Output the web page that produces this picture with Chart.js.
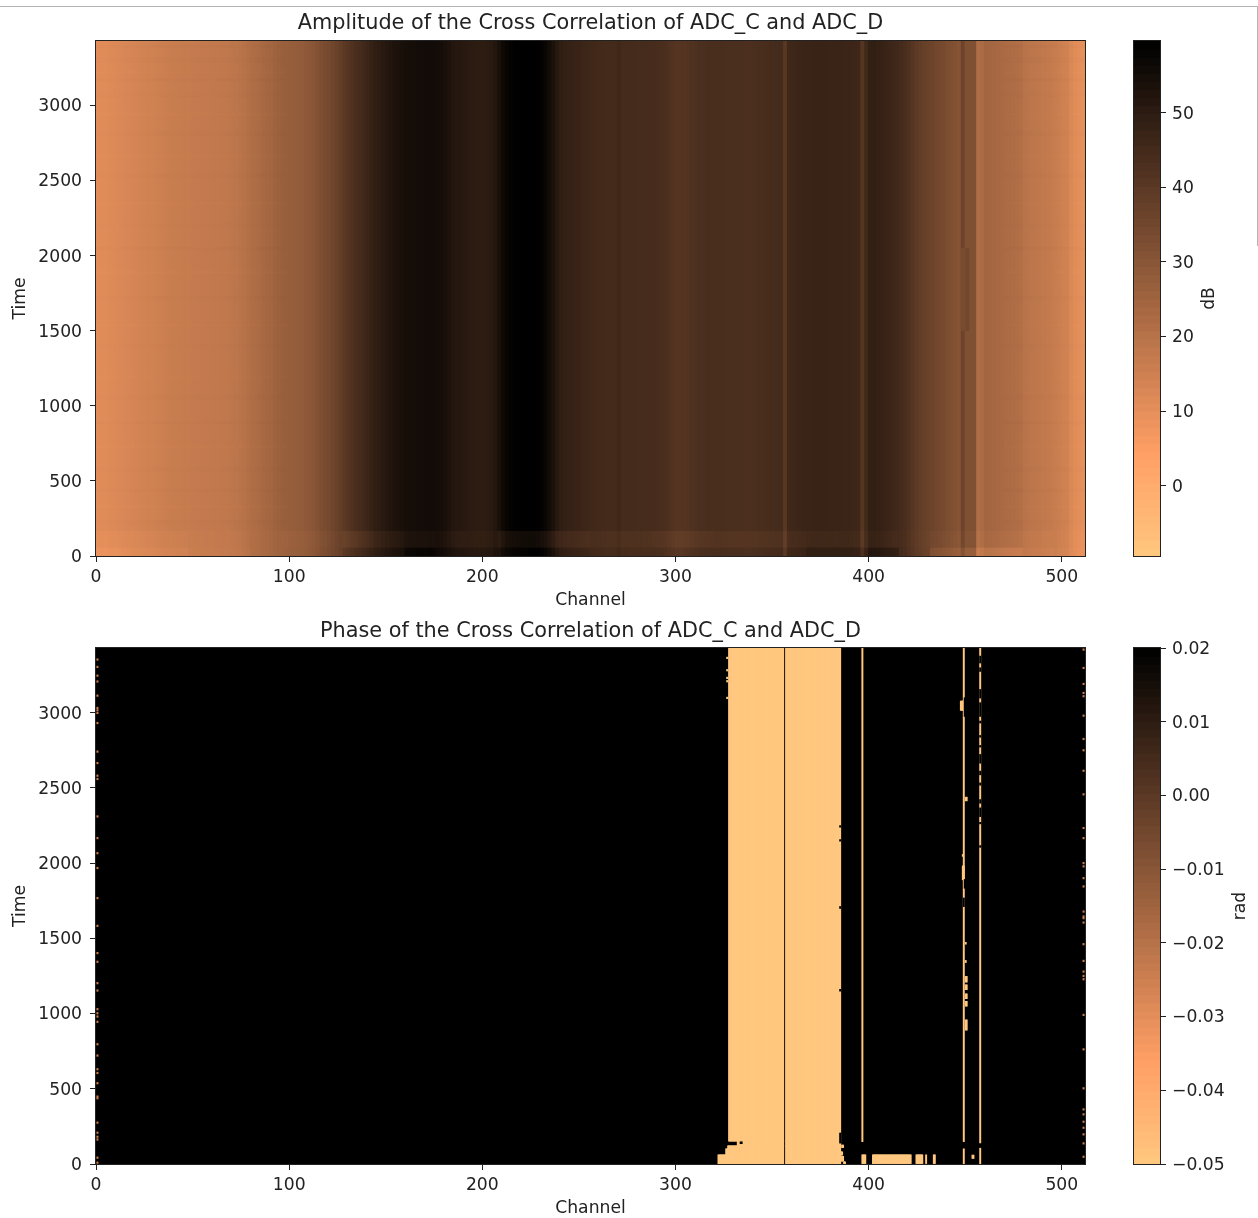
<!DOCTYPE html>
<html>
<head>
<meta charset="utf-8">
<script src="https://cdn.jsdelivr.net/npm/chart.js@4/dist/chart.umd.js"></script>
<style>
html,body{margin:0;padding:0;background:#fff;width:1258px;height:1218px;overflow:hidden}
canvas{position:absolute}
#frameTop{position:absolute;left:0;top:6px;width:1258px;height:1px;background:#b4b4b4}
#frameRight{position:absolute;left:1257px;top:6px;width:1px;height:240px;background:#b4b4b4}
</style>
</head>
<body>
<div id="frameTop"></div><div id="frameRight"></div>
<canvas id="amp" style="left:0;top:0"></canvas>
<canvas id="phase" style="left:0;top:608px"></canvas>
<canvas id="ampBar" style="left:1100px;top:0"></canvas>
<canvas id="phaseBar" style="left:1100px;top:608px"></canvas>
<script>
const titleAmp = "Amplitude of the Cross Correlation of ADC_C and ADC_D";
const titlePhase = "Phase of the Cross Correlation of ADC_C and ADC_D";
const xLabel = "Channel";
const yLabel = "Time";
const channelMax = 512;
const timeMax = 3430;
const dbMin = -9.4, dbMax = 59.6;
const radMin = -0.05, radMax = 0.02;
const channelTicks = [0,100,200,300,400,500];
const timeTicks = [0,500,1000,1500,2000,2500,3000];
const dbTicks = [0,10,20,30,40,50];
const radTicks = [-0.05,-0.04,-0.03,-0.02,-0.01,0,0.01,0.02];

// Amplitude in dB for each two-channel bin, channels 0..512 (16 bins per row = 32 channels)
const ampDb = [
11.0,11.2,11.1,11.5,11.8,12.0,12.4,12.7,13.0,13.2,13.6,13.9,14.1,14.4,14.6,15.0,
15.3,15.5,15.8,16.0,16.2,16.4,16.5,16.7,16.8,16.9,17.1,17.2,17.4,17.5,17.6,17.7,
17.9,18.1,18.3,18.6,18.9,19.3,20.0,20.8,21.5,22.0,22.6,23.4,24.0,24.3,25.2,25.8,
26.2,26.6,27.0,27.3,27.6,28.0,28.6,29.3,30.0,31.2,32.6,33.4,34.4,35.6,36.8,38.2,
40.1,41.4,42.6,43.6,44.5,45.6,46.8,48.0,49.2,50.0,50.8,51.6,52.4,53.0,53.6,54.2,
54.8,55.0,55.2,55.4,55.5,55.6,55.7,55.7,55.4,55.0,54.2,53.0,52.0,51.4,51.2,51.0,
50.6,50.2,50.0,49.9,49.9,50.2,50.8,52.0,54.2,56.4,57.9,58.6,59.1,59.4,59.6,59.6,
59.6,59.6,59.3,58.5,57.4,55.6,53.6,51.0,49.2,48.6,48.2,47.9,47.5,47.0,46.6,46.2,
45.8,45.6,45.4,45.2,45.0,45.0,45.0,46.0,44.8,44.7,44.6,44.6,44.5,44.5,44.4,44.3,
44.2,44.0,43.8,43.4,42.6,41.8,41.2,41.2,41.4,41.8,42.4,43.0,43.3,43.5,43.6,43.7,
43.8,43.8,43.6,43.5,43.4,43.4,43.3,43.3,43.2,43.2,43.4,43.6,43.8,44.0,44.2,44.4,
44.6,44.8,40.5,45.8,46.2,46.5,46.8,47.0,47.2,47.3,47.4,47.5,47.4,47.3,47.3,47.2,
47.0,46.9,46.8,46.7,46.4,46.2,41.0,45.5,48.6,48.8,48.4,48.0,47.4,46.8,46.2,45.6,
44.8,43.8,42.6,41.0,39.6,38.6,37.6,36.8,36.0,35.2,34.6,33.8,33.0,32.2,31.4,30.6,
36.0,32.0,32.0,32.0,21.5,22.5,24.5,24.2,23.8,23.4,23.0,22.6,22.2,21.9,21.6,21.2,
19.6,19.2,18.8,18.5,18.2,17.8,17.4,17.0,16.4,15.6,15.0,14.4,12.6,11.2,10.4,10.0
];
// dB offsets near the start of the recording, one value per 16 channels
const ampOffsetMid = [-1,-1,-1,-0.5,-0.5,-0.5,-1,-1,-3,-2.5,-2,-1.5,-1,-4,-4,-3,-2,-2,-2.5,-2.5,-2,-2,-2,-1.5,-1,-1,-0.5,-1,-1,-1,-1,-0.5];
const ampOffsetLow = [-2.5,-2,-2,-1,-1,-0.5,-0.5,-0.5,0,0,2,1,1,-1,0,0,-0.5,-0.5,-0.5,0,0,0,0,1.5,2,3,0,-4,-5,-5,-2,-1];
const ampRowMain = [170,3430];
const ampRowMid = [60,170];
const ampRowLow = [0,60];
// Faint horizontal streaks over the light outer channels: [t0,t1,dB offset]
const ampStreaks = [
[3385,3400,0.5],[3290,3320,0.4],[3215,3230,-0.3],[3165,3178,0.5],[3060,3085,0.3],[2935,2950,-0.3],[2800,2825,0.4],[2660,2672,-0.3],
[2520,2545,0.4],[2340,2355,-0.3],[2195,2215,0.3],[2040,2054,0.5],[1880,1900,-0.3],[1705,1730,0.4],[1530,1544,-0.3],[1385,1410,0.3],
[1190,1204,-0.3],[1045,1070,0.4],[880,894,0.5],[720,738,-0.3],[565,590,0.4],[430,444,0.5],[320,338,-0.3],[215,235,0.4]
];
const streakChannelLimitLow = 98, streakChannelLimitHigh = 470;
// Short sideways drift of the dark line near channel 450: [bin centre, t0, t1, dB]
const ampDrift = [[449,1500,2050,33.5],[451,1500,2050,35]];

// Phase: regions at the low value, everything else is at the high value [ch0,ch1,t0,t1]
const phaseLight = [
[327.5,356,153,3430],[357,385.5,0,3430],
[322,327,0,60],[326,327,60,100],[327,356,0,120],[332,356,120,153],
[396.5,397,150,3430],[396.5,398.5,4,60],[402,422,4,60],[424.5,428,4,60],[429.5,430,4,60],[433.5,434.5,4,60],
[449,449.5,150,3430],[449,449.5,0,100],
[457.5,458,141,3430],[457.5,458,0,104],
[453.5,454.5,38,58],
[447.5,449.5,3016,3076],[450,451,2415,2437],[448.5,449,2046,2056],[448.5,449.5,1890,1980],
[450,451,1210,1246],[450,451,1160,1190],[450,451,1100,1130],[450,451,1050,1080],[450,451,891,957],[450,450.5,1462,1472],[450,450.5,1340,1352],
[385.5,386.5,60,80],[385.5,387,20,50],[387,388,4,14],[386,387,110,125],[326.5,327,3360,3368],[326.5,327,3278,3286],[326.5,327,3227,3235],[326.5,327,3205,3213],[326.5,327,3094,3102]
];
const phaseDark = [
[385,385.5,2240,2248],[385,385.5,2147,2155],[385,385.5,140,205],[385,385.5,1150,1160],[385,385.5,1700,1710],
[333.5,334.5,136,146],[449.5,450,2976,3098],[449.5,450,1834,1890],[449,449.5,1712,1767],
[457.5,458,3331,3375],[457.5,458,3275,3297],[457.5,458,3098,3153],[457.5,458,2976,3065],[457.5,458,2932,2943],
[457.5,458,2838,2847],[457.5,458,2772,2781],[457.5,458,2665,2721],[457.5,458,2588,2610],[457.5,458,2519,2532],
[457.5,458,2399,2421],[457.5,458,2310,2366],[457.5,458,2262,2270],[457.5,458,2106,2115]
];
const speckLeft = [3353,3304,3246,3207,3113,3031,3016,2998,2931,2741,2665,2581,2559,2310,2166,2066,1967,1767,1583,1402,1344,1202,1153,1029,1002,980,945,796,721,630,605,537,448,437,275,208,181,163,42,9];
const speckRight = [3419,3297,3191,3131,3109,2980,2825,2750,2614,2457,2233,2166,2000,1978,1900,1845,1678,1645,1634,1605,1461,1350,1279,1250,1228,991,762,503,363,330,281,241,197,137,48];
const speckValue = -0.025;
const barLevels = 64;

const FONT = "'DejaVu Sans'";
const TEXT = "#222222";
const tickSize = 17.2, titleSize = 20.8;

function copperR(t){ // t: 0 = low value, 1 = high value
  const x = 1 - Math.max(0, Math.min(1, t));
  const r = Math.min(1, 1.25 * x), g = 0.7812 * x, b = 0.4975 * x;
  return `rgb(${Math.round(r*255)},${Math.round(g*255)},${Math.round(b*255)})`;
}
const dbColor = v => copperR((v - dbMin) / (dbMax - dbMin));
const radColor = v => copperR((v - radMin) / (radMax - radMin));
const fixedTicks = values => (s => { s.ticks = values.map(v => ({value:v})); });

const spines = {
  id: 'spines',
  afterDatasetsDraw(chart){
    const a = chart.chartArea, c = chart.ctx;
    c.save(); c.strokeStyle = '#222'; c.lineWidth = 1;
    c.strokeRect(Math.round(a.left)-0.5, Math.round(a.top)-0.5, Math.round(a.right-a.left)+1, Math.round(a.bottom-a.top)+1);
    c.restore();
  }
};
const barLabel = {
  id: 'barLabel',
  afterDraw(chart, args, opts){
    const c = chart.ctx;
    c.save();
    c.translate(opts.x, (chart.chartArea.top + chart.chartArea.bottom)/2);
    c.rotate(-Math.PI/2);
    c.textAlign = 'center'; c.textBaseline = 'middle';
    c.fillStyle = TEXT; c.font = `${tickSize}px ${FONT}`;
    c.fillText(opts.text, 0, 0);
    c.restore();
  }
};

function panelOptions(title, titleBottom){
  return {
    responsive:false, animation:false, events:[],
    layout:{padding:{right:96}},
    datasets:{bar:{barPercentage:1,categoryPercentage:1,grouped:false,borderWidth:0}},
    plugins:{
      legend:{display:false}, tooltip:{enabled:false},
      title:{display:true,fullSize:false,text:title,color:TEXT,font:{family:FONT,size:titleSize,weight:'normal',lineHeight:1.2},padding:{top:11,bottom:titleBottom}}
    },
    scales:{
      x:{type:'linear',min:0,max:channelMax,offset:false,
        afterBuildTicks:fixedTicks(channelTicks),
        afterFit(s){s.height=56;},
        grid:{display:true,offset:false,drawOnChartArea:false,drawTicks:true,tickLength:6,tickColor:'#222',tickWidth:1},
        border:{display:false},
        ticks:{maxRotation:0,autoSkip:false,color:TEXT,padding:5,font:{family:FONT,size:tickSize},callback:v=>String(v)},
        title:{display:true,text:xLabel,color:TEXT,font:{family:FONT,size:tickSize,lineHeight:1.2},padding:{top:0,bottom:1}}
      },
      y:{type:'linear',min:0,max:timeMax,
        afterBuildTicks:fixedTicks(timeTicks),
        afterFit(s){s.width=96;},
        grid:{display:true,drawOnChartArea:false,drawTicks:true,tickLength:6,tickColor:'#222',tickWidth:1},
        border:{display:false},
        ticks:{autoSkip:false,color:TEXT,padding:8,labelOffset:1.4,font:{family:FONT,size:tickSize},callback:v=>String(v)},
        title:{display:true,text:yLabel,color:TEXT,font:{family:FONT,size:tickSize,lineHeight:1.2},padding:{top:10,bottom:0}}
      }
    }
  };
}

function size(id,w,h){const el=document.getElementById(id);el.width=w;el.height=h;el.style.width=w+'px';el.style.height=h+'px';return el;}

// Amplitude panel
function ampDataset(row, offsets){
  const pts = ampDb.map((v,i)=>({x:i*2+1,y:row}));
  const colors = ampDb.map((v,i)=>dbColor(v + (offsets ? offsets[Math.floor(i/8)] : 0)));
  return {data:pts,backgroundColor:colors,inflateAmount:0.6,order:2};
}
function streakDataset(s){
  const pts=[],cols=[];
  ampDb.forEach((v,i)=>{
    const ch=i*2+1;
    if(ch<streakChannelLimitLow||ch>streakChannelLimitHigh){pts.push({x:ch,y:[s[0],s[1]]});cols.push(dbColor(v+s[2]));}
  });
  return {data:pts,backgroundColor:cols,inflateAmount:0.4,order:1};
}
const ampSets=[ampDataset(ampRowMain,null),ampDataset(ampRowMid,ampOffsetMid),ampDataset(ampRowLow,ampOffsetLow)];
ampStreaks.forEach(s=>ampSets.push(streakDataset(s)));
ampDrift.forEach(d=>ampSets.push({data:[{x:d[0],y:[d[1],d[2]]}],backgroundColor:dbColor(d[3]),inflateAmount:0.3,order:0}));
new Chart(size('amp',1181,612),{
  type:'bar',
  data:{datasets:ampSets},
  options:panelOptions(titleAmp,5),
  plugins:[spines]
});

// Phase panel
function blockDataset(block,color,order){
  const pts=[];
  for(let c=block[0];c<block[1];c+=0.5) pts.push({x:c+0.25,y:[block[2],block[3]]});
  return {data:pts,backgroundColor:color,order:order,inflateAmount:0.5};
}
const speckColor = radColor(speckValue);
const lowColor = radColor(radMin), highColor = radColor(radMax);
const phaseSets = [blockDataset([0,channelMax,0,timeMax],highColor,3)];
phaseLight.forEach(b=>phaseSets.push(blockDataset(b,lowColor,2)));
phaseDark.forEach(b=>phaseSets.push(blockDataset(b,highColor,1)));
speckLeft.forEach(t=>phaseSets.push(blockDataset([0.5,1,t-4,t+4],speckColor,0)));
speckRight.forEach(t=>phaseSets.push(blockDataset([511,511.5,t-4,t+4],speckColor,0)));
new Chart(size('phase',1181,612),{
  type:'bar',
  data:{datasets:phaseSets},
  options:panelOptions(titlePhase,4),
  plugins:[spines]
});

// Colour bars
function barChart(id,min,max,tickValues,fmt,label,labelX,top,colorOf){
  const pts=[],cols=[];
  const d=(max-min)/barLevels;
  for(let i=0;i<barLevels;i++){const v=min+d*(i+0.5);pts.push({x:[0,1],y:v});cols.push(colorOf(v));}
  new Chart(size(id,158,610),{
    type:'bar',
    data:{datasets:[{data:pts,backgroundColor:cols,inflateAmount:0.6,barPercentage:1,categoryPercentage:1,borderWidth:0}]},
    options:{
      indexAxis:'y',responsive:false,animation:false,events:[],
      layout:{padding:{left:34,top:top,bottom:54,right:0}},
      plugins:{legend:{display:false},tooltip:{enabled:false},barLabel:{text:label,x:labelX}},
      scales:{
        x:{type:'linear',min:0,max:1,display:false,offset:false},
        y:{type:'linear',position:'right',min:min,max:max,offset:false,
          afterBuildTicks:fixedTicks(tickValues),
          afterFit(s){s.width=98;},
          grid:{display:true,offset:false,drawOnChartArea:false,drawTicks:true,tickLength:6,tickColor:'#222',tickWidth:1},
          border:{display:false},
          ticks:{autoSkip:false,color:TEXT,padding:6,labelOffset:1.4,font:{family:FONT,size:tickSize},callback:fmt}
        }
      }
    },
    plugins:[spines,barLabel]
  });
}
barChart('ampBar',dbMin,dbMax,dbTicks,v=>String(Math.round(v)),'dB',109.5,41,dbColor);
barChart('phaseBar',radMin,radMax,radTicks,v=>{const s=Math.abs(v).toFixed(2);return (v<-1e-6?'\u2212':'')+s;},'rad',141,40,radColor);
</script>
</body>
</html>
